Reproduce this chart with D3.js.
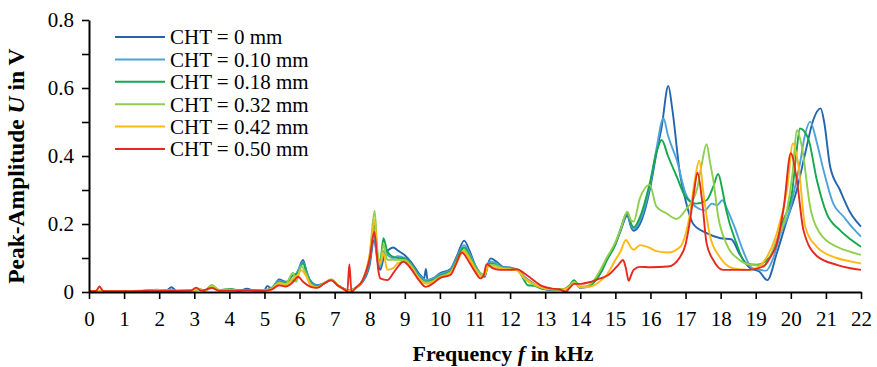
<!DOCTYPE html>
<html>
<head>
<meta charset="utf-8">
<script src="https://cdn.jsdelivr.net/npm/d3@7"></script>
<style>
  body { margin: 0; background: #fff; }
  svg { display: block; font-family: "Liberation Serif", "Times New Roman", serif; }
</style>
</head>
<body>
<div id="chart"></div>
<script>
// Frequency in kHz, peak amplitude in V
const cht0 = [[0,0.002],[0.3,0.003],[0.6,0.002],[1,0.002],[1.5,0.003],[1.9,0.005],[2.2,0.004],[2.35,0.014],[2.5,0.003],[3,0.006],[3.1,0.01],[3.3,0.004],[3.5,0.012],[3.7,0.005],[4,0.007],[4.3,0.004],[4.5,0.01],[4.7,0.004],[5,0.006],[5.08,0.018],[5.2,0.01],[5.42,0.037],[5.6,0.03],[5.8,0.034],[5.95,0.06],[6.1,0.094],[6.2,0.06],[6.3,0.035],[6.5,0.02],[6.7,0.025],[6.9,0.035],[7.1,0.02],[7.3,0.008],[7.42,0.005],[7.6,0.012],[7.8,0.03],[8.0,0.08],[8.12,0.153],[8.22,0.1],[8.3,0.065],[8.42,0.11],[8.55,0.125],[8.67,0.131],[8.8,0.122],[9.0,0.108],[9.2,0.085],[9.4,0.055],[9.55,0.04],[9.6,0.068],[9.65,0.035],[9.8,0.04],[10.0,0.055],[10.3,0.068],[10.5,0.11],[10.69,0.151],[10.85,0.12],[11.0,0.08],[11.15,0.055],[11.28,0.045],[11.36,0.08],[11.45,0.099],[11.6,0.09],[11.8,0.074],[12.0,0.072],[12.2,0.065],[12.4,0.045],[12.6,0.03],[12.9,0.011],[13.2,0.006],[13.5,0.006],[13.7,0.015],[13.82,0.03],[14.0,0.012],[14.2,0.015],[14.4,0.03],[14.6,0.06],[14.75,0.094],[15.0,0.14],[15.15,0.18],[15.34,0.225],[15.45,0.19],[15.52,0.18],[15.7,0.2],[15.98,0.3],[16.17,0.408],[16.32,0.486],[16.51,0.606],[16.62,0.54],[16.84,0.349],[17.0,0.27],[17.22,0.2],[17.6,0.173],[18.0,0.158],[18.3,0.155],[18.55,0.11],[18.84,0.07],[19.1,0.06],[19.33,0.035],[19.6,0.114],[19.89,0.212],[20.17,0.3],[20.41,0.408],[20.64,0.506],[20.85,0.54],[20.95,0.5],[21.12,0.369],[21.4,0.3],[21.68,0.236],[22,0.192]];

const cht10 = [[0,0.002],[0.3,0.003],[0.6,0.002],[1,0.002],[1.5,0.004],[1.9,0.004],[2.3,0.006],[2.5,0.003],[3,0.005],[3.1,0.008],[3.3,0.004],[3.5,0.014],[3.7,0.005],[4,0.006],[4.5,0.006],[5,0.006],[5.2,0.012],[5.42,0.033],[5.6,0.028],[5.8,0.036],[5.95,0.062],[6.1,0.088],[6.2,0.06],[6.3,0.032],[6.5,0.018],[6.7,0.026],[6.9,0.035],[7.1,0.02],[7.3,0.007],[7.42,0.005],[7.6,0.012],[7.8,0.032],[8.0,0.09],[8.12,0.17],[8.22,0.09],[8.3,0.075],[8.4,0.12],[8.55,0.105],[8.67,0.1],[8.8,0.105],[9.0,0.1],[9.2,0.08],[9.4,0.05],[9.6,0.035],[9.8,0.04],[10.0,0.052],[10.3,0.065],[10.5,0.105],[10.69,0.138],[10.85,0.112],[11.0,0.08],[11.15,0.055],[11.28,0.05],[11.36,0.08],[11.45,0.09],[11.6,0.085],[11.8,0.072],[12.0,0.07],[12.2,0.066],[12.4,0.045],[12.6,0.028],[12.9,0.01],[13.2,0.006],[13.5,0.007],[13.7,0.018],[13.82,0.032],[14.0,0.014],[14.2,0.016],[14.4,0.032],[14.6,0.062],[14.75,0.095],[15.0,0.142],[15.15,0.185],[15.34,0.23],[15.45,0.195],[15.52,0.185],[15.7,0.21],[15.98,0.31],[16.17,0.42],[16.37,0.511],[16.5,0.46],[16.75,0.388],[17.0,0.29],[17.3,0.25],[17.55,0.24],[17.75,0.26],[17.9,0.255],[18.05,0.27],[18.2,0.24],[18.4,0.19],[18.63,0.124],[18.9,0.07],[19.3,0.063],[19.5,0.1],[19.7,0.17],[19.97,0.24],[20.1,0.3],[20.26,0.378],[20.4,0.46],[20.55,0.501],[20.74,0.44],[20.93,0.359],[21.21,0.26],[21.5,0.222],[21.75,0.19],[22,0.163]];

const cht18 = [[0,0.002],[0.3,0.003],[0.6,0.002],[1,0.002],[1.5,0.003],[1.95,0.007],[2.2,0.004],[2.5,0.004],[3,0.005],[3.1,0.009],[3.3,0.004],[3.5,0.02],[3.7,0.006],[4.05,0.009],[4.3,0.004],[4.5,0.006],[5,0.005],[5.2,0.01],[5.42,0.03],[5.6,0.026],[5.82,0.05],[5.95,0.055],[6.1,0.085],[6.2,0.055],[6.3,0.03],[6.5,0.016],[6.7,0.026],[6.9,0.036],[7.1,0.02],[7.3,0.006],[7.42,0.004],[7.6,0.012],[7.8,0.035],[8.0,0.1],[8.13,0.2],[8.22,0.11],[8.3,0.09],[8.39,0.158],[8.5,0.12],[8.67,0.103],[8.8,0.1],[9.0,0.098],[9.2,0.078],[9.4,0.045],[9.6,0.03],[9.8,0.035],[10.0,0.048],[10.3,0.06],[10.5,0.1],[10.69,0.131],[10.85,0.105],[11.0,0.075],[11.15,0.055],[11.28,0.05],[11.36,0.075],[11.45,0.085],[11.6,0.08],[11.8,0.07],[12.0,0.068],[12.2,0.065],[12.4,0.035],[12.5,0.02],[12.7,0.018],[12.9,0.01],[13.2,0.007],[13.5,0.008],[13.7,0.02],[13.82,0.035],[14.0,0.015],[14.2,0.015],[14.4,0.03],[14.6,0.06],[14.75,0.092],[15.0,0.14],[15.15,0.185],[15.34,0.235],[15.45,0.2],[15.52,0.19],[15.7,0.22],[15.98,0.32],[16.17,0.41],[16.32,0.447],[16.5,0.4],[16.75,0.339],[17.0,0.28],[17.3,0.26],[17.6,0.27],[17.79,0.31],[17.93,0.347],[18.05,0.3],[18.16,0.24],[18.44,0.146],[18.72,0.084],[19.03,0.08],[19.41,0.104],[19.79,0.212],[20.03,0.29],[20.15,0.4],[20.26,0.481],[20.5,0.45],[20.74,0.33],[21.02,0.231],[21.4,0.182],[21.7,0.155],[22,0.133]];

const cht32 = [[0,0.002],[0.3,0.003],[0.6,0.002],[1,0.002],[1.5,0.003],[1.95,0.006],[2.2,0.004],[2.5,0.004],[3,0.005],[3.1,0.008],[3.3,0.004],[3.5,0.02],[3.7,0.006],[4,0.007],[4.5,0.005],[5,0.005],[5.2,0.01],[5.42,0.028],[5.6,0.024],[5.82,0.057],[5.9,0.03],[6.05,0.076],[6.2,0.05],[6.3,0.026],[6.5,0.014],[6.7,0.026],[6.9,0.037],[7.1,0.02],[7.3,0.006],[7.42,0.004],[7.6,0.012],[7.8,0.036],[8.0,0.11],[8.14,0.239],[8.22,0.12],[8.3,0.08],[8.39,0.14],[8.5,0.095],[8.67,0.095],[8.8,0.095],[9.0,0.094],[9.2,0.075],[9.4,0.042],[9.6,0.028],[9.8,0.032],[10.0,0.045],[10.3,0.058],[10.5,0.095],[10.69,0.124],[10.85,0.1],[11.0,0.072],[11.15,0.055],[11.28,0.052],[11.36,0.075],[11.45,0.08],[11.6,0.078],[11.8,0.07],[12.0,0.068],[12.2,0.064],[12.4,0.04],[12.6,0.026],[12.9,0.012],[13.2,0.008],[13.5,0.008],[13.7,0.018],[13.82,0.03],[14.0,0.016],[14.2,0.018],[14.4,0.036],[14.6,0.07],[14.75,0.1],[15.0,0.146],[15.15,0.185],[15.34,0.236],[15.45,0.21],[15.52,0.207],[15.7,0.276],[15.98,0.315],[16.17,0.251],[16.46,0.231],[16.75,0.215],[17.0,0.241],[17.32,0.3],[17.45,0.37],[17.6,0.435],[17.7,0.38],[17.79,0.33],[17.93,0.222],[18.16,0.143],[18.54,0.094],[18.84,0.08],[19.22,0.078],[19.6,0.153],[19.89,0.24],[20.05,0.35],[20.17,0.476],[20.31,0.43],[20.55,0.251],[20.83,0.173],[21.31,0.133],[21.7,0.118],[22,0.109]];

const cht42 = [[0,0.002],[0.3,0.004],[0.6,0.002],[1,0.002],[1.5,0.003],[2,0.004],[2.5,0.003],[3,0.005],[3.1,0.01],[3.3,0.004],[3.5,0.015],[3.7,0.005],[4,0.005],[4.5,0.005],[5,0.005],[5.2,0.008],[5.42,0.026],[5.6,0.02],[5.82,0.04],[5.95,0.05],[6.05,0.064],[6.2,0.045],[6.3,0.022],[6.5,0.013],[6.7,0.026],[6.9,0.036],[7.1,0.02],[7.3,0.006],[7.42,0.004],[7.6,0.012],[7.8,0.036],[8.0,0.11],[8.14,0.212],[8.22,0.1],[8.3,0.085],[8.39,0.115],[8.5,0.065],[8.67,0.07],[8.8,0.085],[9.0,0.09],[9.2,0.07],[9.4,0.04],[9.6,0.024],[9.8,0.03],[10.0,0.042],[10.3,0.055],[10.5,0.09],[10.66,0.12],[10.85,0.095],[11.0,0.068],[11.15,0.048],[11.28,0.05],[11.36,0.078],[11.45,0.076],[11.6,0.072],[11.8,0.068],[12.0,0.066],[12.2,0.064],[12.4,0.042],[12.6,0.028],[12.9,0.014],[13.2,0.008],[13.5,0.007],[13.7,0.015],[13.82,0.026],[14.0,0.014],[14.2,0.014],[14.4,0.02],[14.6,0.035],[14.75,0.05],[15.0,0.094],[15.15,0.12],[15.3,0.153],[15.45,0.13],[15.52,0.124],[15.7,0.138],[15.98,0.13],[16.17,0.12],[16.5,0.116],[16.85,0.133],[17.0,0.17],[17.13,0.231],[17.25,0.32],[17.39,0.386],[17.51,0.29],[17.7,0.163],[17.97,0.104],[18.35,0.07],[18.8,0.065],[19.03,0.071],[19.3,0.1],[19.6,0.173],[19.89,0.3],[20.06,0.437],[20.22,0.37],[20.41,0.192],[20.74,0.133],[21.31,0.1],[21.7,0.09],[22,0.084]];

const cht50 = [[0,0.002],[0.2,0.003],[0.3,0.016],[0.4,0.003],[0.6,0.002],[1,0.002],[1.5,0.003],[2,0.003],[2.5,0.003],[2.9,0.004],[3.05,0.013],[3.2,0.004],[3.5,0.012],[3.7,0.004],[4,0.004],[4.5,0.005],[5,0.004],[5.2,0.007],[5.42,0.02],[5.6,0.016],[5.82,0.03],[5.96,0.045],[6.1,0.03],[6.3,0.016],[6.5,0.012],[6.7,0.025],[6.9,0.035],[7.1,0.018],[7.3,0.006],[7.36,0.0],[7.42,0.082],[7.48,0.0],[7.6,0.012],[7.8,0.035],[8.0,0.1],[8.13,0.177],[8.25,0.06],[8.3,0.04],[8.5,0.035],[8.7,0.06],[8.96,0.089],[9.2,0.065],[9.4,0.035],[9.6,0.015],[9.8,0.025],[10.0,0.041],[10.3,0.05],[10.45,0.08],[10.62,0.116],[10.85,0.085],[11.0,0.06],[11.15,0.04],[11.25,0.05],[11.33,0.082],[11.5,0.07],[11.7,0.065],[12.0,0.065],[12.2,0.067],[12.4,0.055],[12.6,0.04],[12.9,0.018],[13.2,0.01],[13.4,0.008],[13.58,0.001],[13.7,0.012],[13.82,0.024],[14.0,0.024],[14.3,0.03],[14.57,0.04],[14.8,0.05],[15.08,0.079],[15.22,0.094],[15.3,0.07],[15.38,0.033],[15.45,0.05],[15.52,0.065],[15.7,0.074],[16.0,0.073],[16.5,0.075],[16.85,0.104],[17.0,0.14],[17.13,0.212],[17.25,0.3],[17.34,0.351],[17.47,0.27],[17.6,0.143],[17.79,0.094],[18.07,0.065],[18.44,0.065],[18.8,0.065],[19.22,0.075],[19.4,0.1],[19.6,0.143],[19.8,0.25],[20.0,0.408],[20.17,0.33],[20.36,0.182],[20.74,0.106],[21.31,0.08],[21.7,0.07],[22,0.065]];

const seriesNames = ['CHT = 0 mm', 'CHT = 0.10 mm', 'CHT = 0.18 mm', 'CHT = 0.32 mm', 'CHT = 0.42 mm', 'CHT = 0.50 mm'];
const seriesColors = ['#2366ad', '#4ea2da', '#13a84b', '#8fcf4c', '#fdb913', '#e4291f'];
const seriesData = [cht0, cht10, cht18, cht32, cht42, cht50];

const xTicks = d3.range(0, 23, 1);
const yTicks = [0, 0.2, 0.4, 0.6, 0.8];
const yMinorTicks = d3.range(0, 0.81, 0.1);

const width = 877;
const height = 367;
const margin = { top: 20, right: 16, bottom: 75, left: 89 };
const innerW = width - margin.left - margin.right;
const innerH = height - margin.top - margin.bottom;

const svg = d3.select('#chart')
  .append('svg')
  .attr('width', width)
  .attr('height', height);

const g = svg.append('g')
  .attr('transform', `translate(${margin.left},${margin.top})`);

// Scales
const x = d3.scaleLinear().domain([0, 22]).range([0, innerW]);
const y = d3.scaleLinear().domain([0, 0.8]).range([innerH, 0]);

// Series lines, first series at the bottom
const line = d3.line()
  .x(d => x(d[0]))
  .y(d => y(d[1]))
  .curve(d3.curveMonotoneX);

g.selectAll('.series')
  .data(seriesData)
  .enter()
  .append('path')
  .attr('class', 'series')
  .attr('fill', 'none')
  .attr('stroke', (d, i) => seriesColors[i])
  .attr('stroke-width', 1.9)
  .attr('stroke-linejoin', 'round')
  .attr('d', line);

// Axes
const xAxis = g.append('g')
  .attr('transform', `translate(0,${innerH})`)
  .call(d3.axisBottom(x).tickValues(xTicks).tickSize(7).tickPadding(12).tickSizeOuter(0));

const yAxis = g.append('g')
  .call(d3.axisLeft(y).tickValues(yMinorTicks).tickSize(7).tickPadding(8).tickSizeOuter(0)
    .tickFormat(d => {
      const v = Math.round(d * 10) / 10;
      return yTicks.some(t => Math.abs(t - v) < 1e-6) ? (v === 0 ? '0' : d3.format('.1f')(v)) : '';
    }));

[xAxis, yAxis].forEach(ax => {
  ax.select('.domain').attr('stroke', '#000').attr('stroke-width', 2);
  ax.selectAll('.tick line').attr('stroke', '#000').attr('stroke-width', 1.6);
  ax.selectAll('.tick text')
    .attr('fill', '#000')
    .style('font-family', '"Liberation Serif", serif')
    .style('font-size', '21px');
});

// Axis titles
svg.append('text')
  .attr('x', margin.left + x(11.8))
  .attr('y', 361)
  .attr('text-anchor', 'middle')
  .style('font-size', '22px')
  .style('font-weight', 'bold')
  .call(t => {
    t.append('tspan').text('Frequency ');
    t.append('tspan').style('font-style', 'italic').text('f');
    t.append('tspan').text(' in kHz');
  });

svg.append('text')
  .attr('transform', `translate(24,${margin.top + y(0.37)}) rotate(-90)`)
  .attr('text-anchor', 'middle')
  .style('font-size', '23.5px')
  .style('font-weight', 'bold')
  .call(t => {
    t.append('tspan').text('Peak-Amplitude ');
    t.append('tspan').style('font-style', 'italic').text('U');
    t.append('tspan').text(' in V');
  });

// Legend
const legend = svg.append('g')
  .attr('transform', 'translate(115,37)');

const rows = legend.selectAll('.row')
  .data(seriesNames)
  .enter()
  .append('g')
  .attr('class', 'row')
  .attr('transform', (d, i) => `translate(0,${i * 22.4})`);

rows.append('line')
  .attr('x1', 0)
  .attr('x2', 50)
  .attr('stroke', (d, i) => seriesColors[i])
  .attr('stroke-width', 2);

rows.append('text')
  .attr('x', 55)
  .attr('dy', '0.35em')
  .style('font-size', '21px')
  .text(d => d);
</script>
</body>
</html>
